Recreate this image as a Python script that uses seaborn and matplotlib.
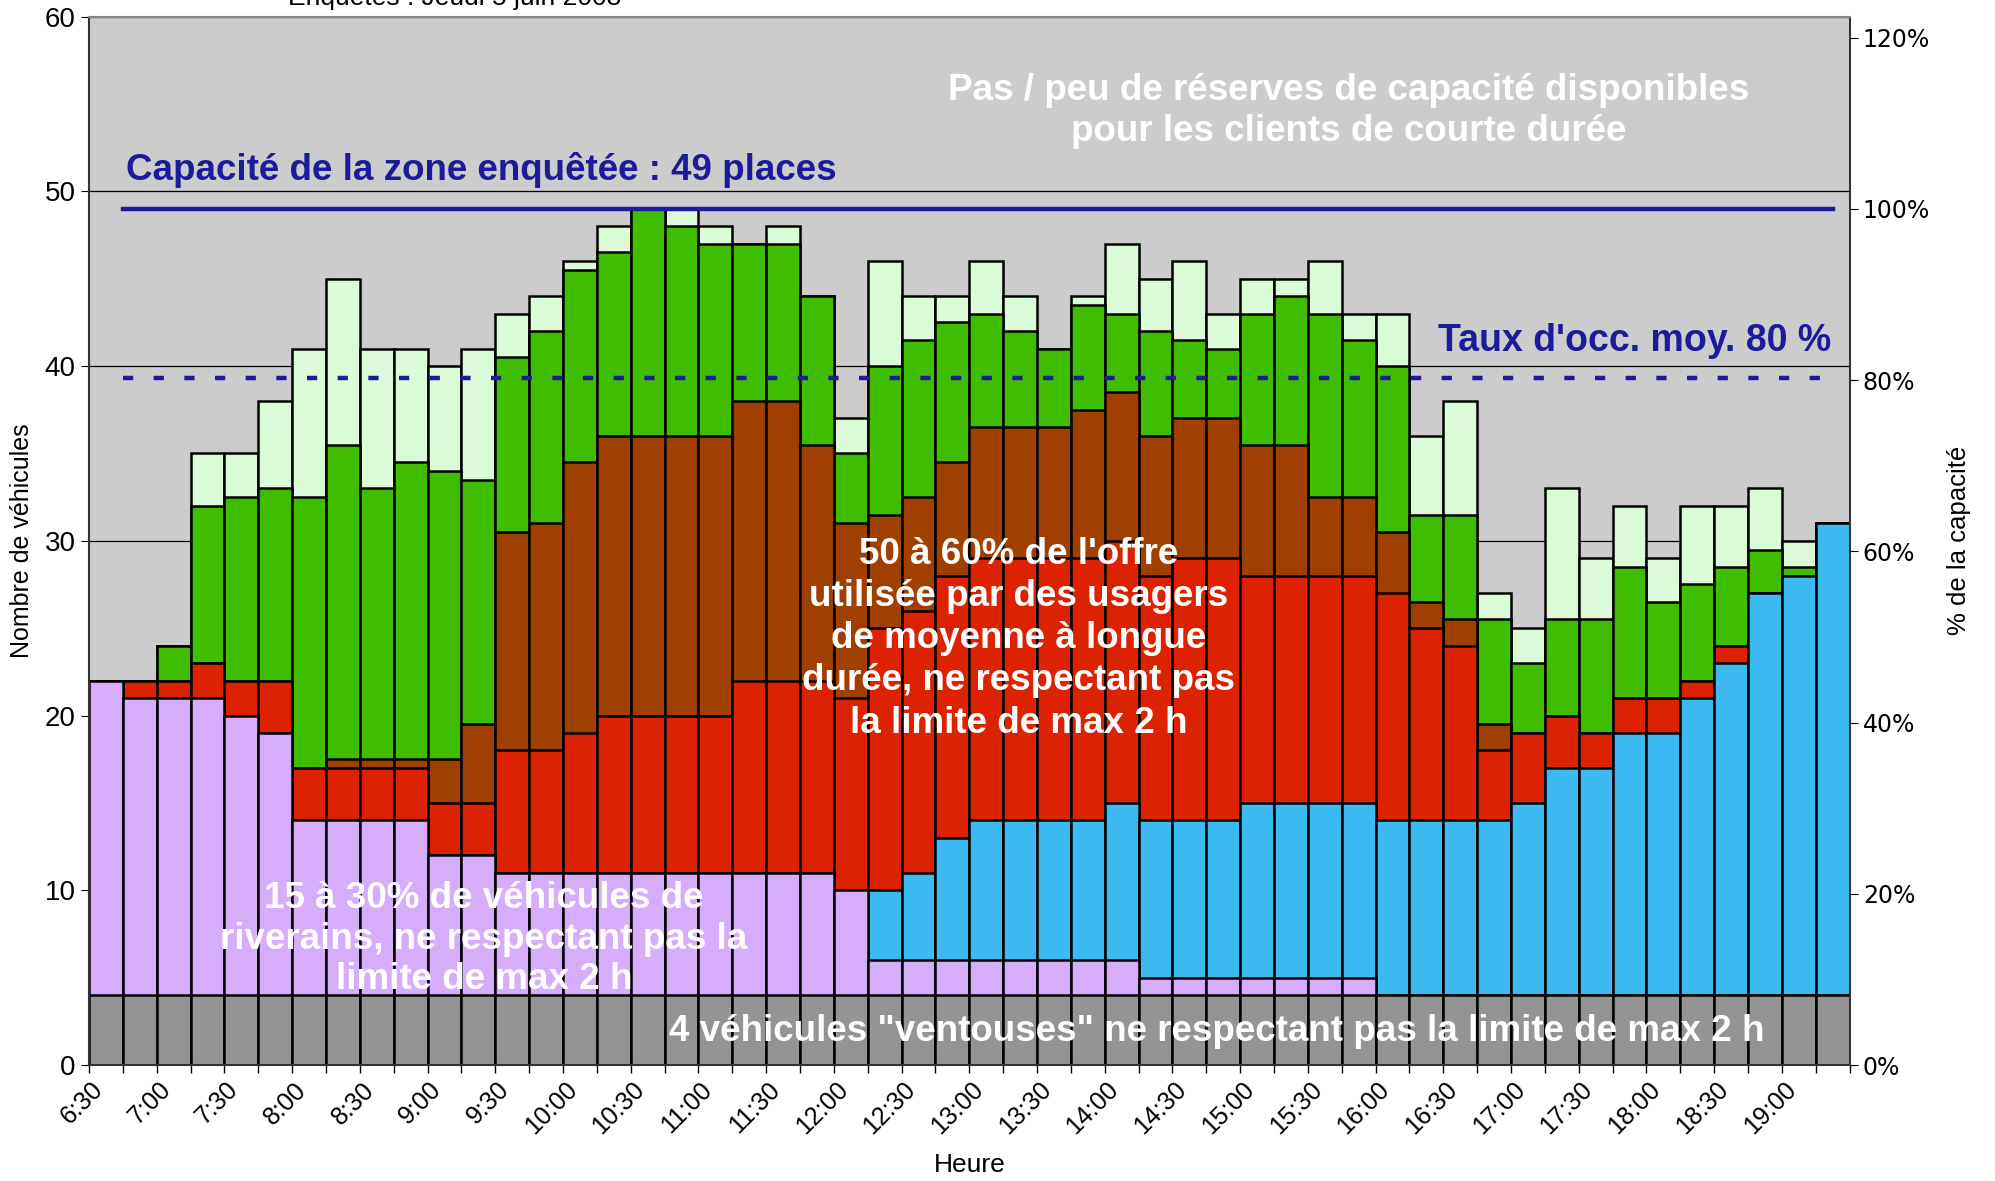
import matplotlib
matplotlib.use("Agg")
import matplotlib.pyplot as plt
import pandas as pd
import seaborn as sns

heures = ["6:30", "6:45", "7:00", "7:15", "7:30", "7:45", "8:00", "8:15", "8:30", "8:45",
          "9:00", "9:15", "9:30", "9:45", "10:00", "10:15", "10:30", "10:45", "11:00", "11:15",
          "11:30", "11:45", "12:00", "12:15", "12:30", "12:45", "13:00", "13:15", "13:30", "13:45",
          "14:00", "14:15", "14:30", "14:45", "15:00", "15:15", "15:30", "15:45", "16:00", "16:15",
          "16:30", "16:45", "17:00", "17:15", "17:30", "17:45", "18:00", "18:15", "18:30", "18:45",
          "19:00", "19:15"]

# nombre de vehicules par categorie (empilees de bas en haut)
ventouses = [4, 4, 4, 4, 4, 4, 4, 4, 4, 4, 4, 4, 4, 4, 4, 4, 4, 4, 4, 4, 4, 4, 4, 4, 4, 4,
             4, 4, 4, 4, 4, 4, 4, 4, 4, 4, 4, 4, 4, 4, 4, 4, 4, 4, 4, 4, 4, 4, 4, 4, 4, 4]
riverains = [18, 17, 17, 17, 16, 15, 10, 10, 10, 10, 8, 8, 7, 7, 7, 7, 7, 7, 7, 7, 7, 7, 6, 2, 2, 2,
             2, 2, 2, 2, 2, 1, 1, 1, 1, 1, 1, 1, 0, 0, 0, 0, 0, 0, 0, 0, 0, 0, 0, 0, 0, 0]
courte = [0, 0, 0, 0, 0, 0, 0, 0, 0, 0, 0, 0, 0, 0, 0, 0, 0, 0, 0, 0, 0, 0, 0, 4, 5, 7,
          8, 8, 8, 8, 9, 9, 9, 9, 10, 10, 10, 10, 10, 10, 10, 10, 11, 13, 13, 15, 15, 17, 19, 23, 24, 27]
moyenne = [0, 1, 1, 2, 2, 3, 3, 3, 3, 3, 3, 3, 7, 7, 8, 9, 9, 9, 9, 11, 11, 11, 11, 15, 15, 15,
           15, 15, 15, 15, 15, 14, 15, 15, 13, 13, 13, 13, 13, 11, 10, 4, 4, 3, 2, 2, 2, 1, 1, 0, 0, 0]
longue = [0, 0, 0, 0, 0, 0, 0, 0.5, 0.5, 0.5, 2.5, 4.5, 12.5, 13, 15.5, 16, 16, 16, 16, 16, 16, 13.5, 10, 6.5, 6.5, 6.5,
          7.5, 7.5, 7.5, 8.5, 8.5, 8, 8, 8, 7.5, 7.5, 4.5, 4.5, 3.5, 1.5, 1.5, 1.5, 0, 0, 0, 0, 0, 0, 0, 0, 0, 0]
respect = [0, 0, 2, 9, 10.5, 11, 15.5, 18, 15.5, 17, 16.5, 14, 10, 11, 11, 10.5, 13, 12, 11, 9, 9, 8.5, 4, 8.5, 9, 8,
           6.5, 5.5, 4.5, 6, 4.5, 6, 4.5, 4, 7.5, 8.5, 10.5, 9, 9.5, 5, 6, 6, 4, 5.5, 6.5, 7.5, 5.5, 5.5, 4.5, 2.5, 0.5, 0]
inconnu = [0, 0, 0, 3, 2.5, 5, 8.5, 9.5, 8, 6.5, 6, 7.5, 2.5, 2, 0.5, 1.5, 0, 1, 1, 0, 1, 0, 2, 6, 2.5, 1.5,
           3, 2, 0, 0.5, 4, 3, 4.5, 2, 2, 1, 3, 1.5, 3, 4.5, 6.5, 1.5, 2, 7.5, 3.5, 3.5, 2.5, 4.5, 3.5, 3.5, 1.5, 0]

capacite = 49
taux_moyen = 39.3

couches = ["ventouses", "riverains", "courte", "moyenne", "longue", "respect", "inconnu"]
couleurs = ["#949494", "#D5ADFB", "#3BB9F1", "#DC2200", "#A04000", "#3FBE00", "#DBFBD8"]

df = pd.DataFrame({"heure": heures, "ventouses": ventouses, "riverains": riverains,
                   "courte": courte, "moyenne": moyenne, "longue": longue,
                   "respect": respect, "inconnu": inconnu})
cumul = df[couches].cumsum(axis=1)
for c in couches:
    df["top_" + c] = cumul[c]

plt.rcParams['font.family'] = ['Liberation Sans', 'DejaVu Sans']
fig = plt.figure(figsize=(19.95, 11.81), dpi=100)
ax = fig.add_axes([0.0446, 0.0982, 0.8825, 0.8878])
ax.set_facecolor("#CCCCCC")

for c, col in zip(reversed(couches), reversed(couleurs)):
    sns.barplot(data=df, x="heure", y="top_" + c, order=heures, color=col, saturation=1,
                width=1.0, edgecolor="black", linewidth=1.8, errorbar=None, ax=ax)

ax.set_xlim(-0.5, len(heures) - 0.5)
ax.set_ylim(0, 60)
ax.set_yticks(range(0, 61, 10))
ax.set_axisbelow(True)
ax.yaxis.grid(True, color="black", linewidth=0.9)
ax.xaxis.grid(False)

ax.plot([0.5, 51], [capacite, capacite], color="#1B1B9B", linewidth=3.2, zorder=4)
ax.plot([0.5, 51], [taux_moyen, taux_moyen], color="#1B1B9B", linewidth=3.2,
        dashes=(2.3, 4.6), dash_capstyle="butt", zorder=4)

# etiquettes un peu decalees a gauche, comme dans l'original
ax.set_xticks([i - 0.45 for i in range(0, len(heures), 2)])
ax.set_xticklabels(heures[::2], rotation=45, ha="right", rotation_mode="anchor", fontsize=18)
ax.set_xticks([i - 0.5 for i in range(len(heures) + 1)], minor=True)
ax.tick_params(axis="x", which="major", length=0, pad=9)
ax.tick_params(axis="x", which="minor", length=6, width=1, direction="out")
ax.tick_params(axis="y", labelsize=20, length=6, direction="out")

ax.set_xlabel("Heure", fontsize=19, labelpad=10)
ax.set_ylabel("Nombre de véhicules", fontsize=18, labelpad=8)

for s in ["left", "bottom", "right"]:
    ax.spines[s].set_color("#333333")
    ax.spines[s].set_linewidth(1.5)
ax.spines["top"].set_color("#888888")
ax.spines["top"].set_linewidth(1.5)

ax2 = ax.twinx()
ax2.set_ylim(0, 60 / capacite)
ax2.set_yticks([0, 0.2, 0.4, 0.6, 0.8, 1.0, 1.2])
ax2.set_yticklabels(["0%", "20%", "40%", "60%", "80%", "100%", "120%"],
                    fontsize=17, family="DejaVu Sans")
ax2.tick_params(axis="y", length=6, direction="out")
ax2.set_ylabel("% de la capacité", fontsize=18.5, labelpad=12)
for s in ax2.spines.values():
    s.set_visible(False)

bleu = "#1B1B9B"
ax.text(0.6, 51.2, "Capacité de la zone enquêtée : 49 places", color=bleu, fontsize=26.5,
        fontweight="bold", ha="left", va="center", zorder=5)
ax.text(50.95, 41.45, "Taux d'occ. moy. 80 %", color=bleu, fontsize=27,
        fontweight="bold", ha="right", va="center", zorder=5)
ax.text(36.7, 54.6, "Pas / peu de réserves de capacité disponibles\npour les clients de courte durée",
        color="white", fontsize=26.5, fontweight="bold", ha="center", va="center",
        linespacing=1.2, zorder=5)
ax.text(26.96, 24.4, "50 à 60% de l'offre\nutilisée par des usagers\nde moyenne à longue\n"
        "durée, ne respectant pas\nla limite de max 2 h", color="white", fontsize=26.5,
        fontweight="bold", ha="center", va="center", linespacing=1.27, zorder=5)
ax.text(11.16, 7.2, "15 à 30% de véhicules de\nriverains, ne respectant pas la\nlimite de max 2 h",
        color="white", fontsize=26.5, fontweight="bold", ha="center", va="center",
        linespacing=1.2, zorder=5)
ax.text(32.8, 1.9, "4 véhicules \"ventouses\" ne respectant pas la limite de max 2 h",
        color="white", fontsize=26.5, fontweight="bold", ha="center", va="center", zorder=5)

fig.text(0.228, 0.9958, "Enquêtes : Jeudi 5 juin 2008", fontsize=19, ha="center", va="baseline")

fig.savefig("out.png", dpi=100)
